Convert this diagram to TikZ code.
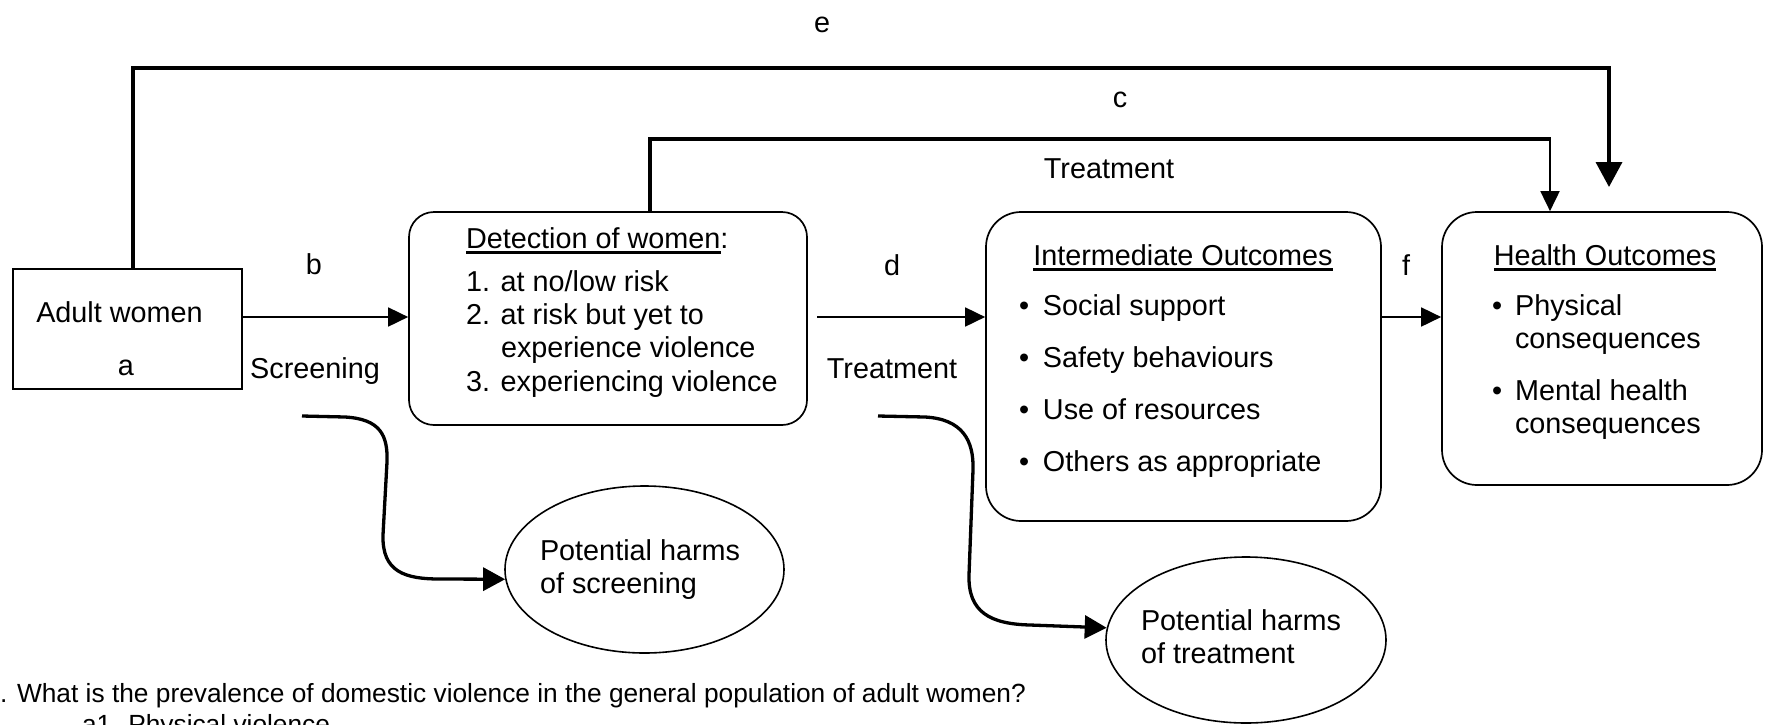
\documentclass[tikz,border=0pt]{standalone}
\usepackage{fontspec}
\setmainfont{Liberation Sans}
\usetikzlibrary{arrows.meta,shapes.geometric,calc}
\newcommand\fsz{\fontsize{28.8}{33.3}\selectfont}
\newcommand\fsq{\fontsize{26.3}{31}\selectfont}
\newcommand\ulx[1]{\setbox0\hbox{#1}\rlap{\rule[-5.5pt]{\wd0}{2.6pt}}\box0}
\begin{document}
\begin{tikzpicture}[x=1pt,y=-1pt,
  txt/.style={inner sep=0pt, outer sep=0pt, font=\fsz, anchor=base},
  txtl/.style={txt, anchor=base west},
  qtxt/.style={txtl, font=\fsq},
  sqbox/.style={draw, line width=1.7pt, inner sep=0pt},
  rbox/.style={draw, line width=1.7pt, inner sep=0pt, rounded corners=35pt},
  harm/.style={draw, ellipse, line width=1.6pt, inner sep=0pt},
  arr/.style={line width=1.8pt, -{Triangle[length=20pt,width=19pt]}},
  thickln/.style={line width=3.6pt},
  wavy/.style={line width=3.3pt, -{Triangle[length=22pt,width=23pt]}},
]
\useasboundingbox (0,0) rectangle (1765,724);

% boxes
\node[sqbox, minimum width=229pt, minimum height=120pt] (adult) at (127.5,329) {};
\node[rbox, rounded corners=25pt, minimum width=398pt, minimum height=213pt] (det) at (608,318.5) {};
\node[rbox, minimum width=395pt, minimum height=309pt] (inter) at (1183.5,366.5) {};
\node[rbox, minimum width=320pt, minimum height=273pt] (health) at (1602,348.5) {};
\node[harm, minimum width=279pt, minimum height=167pt] (harm1) at (644.5,569.5) {};
\node[harm, minimum width=280pt, minimum height=166pt] (harm2) at (1246,640) {};

% texts in boxes
\node[txt] (adultt) at (119.5,322) {Adult women};
\node[txt] (alab) at (126,375) {a};

\node[txtl] (dett) at (466,248) {\ulx{Detection of women}:};
\node[txtl] (det1) at (466,291) {1. at no/low risk};
\node[txtl] (det2) at (466,324) {2. at risk but yet to};
\node[txtl] (det2b) at (501,357) {experience violence};
\node[txtl] (det3) at (466,391) {3. experiencing violence};

\node[txt] (intt) at (1183,265) {\ulx{Intermediate Outcomes}};
\node[txtl] (int1) at (1019,315) {\textbullet\hspace{13.9pt}Social support};
\node[txtl] (int2) at (1019,367) {\textbullet\hspace{13.9pt}Safety behaviours};
\node[txtl] (int3) at (1019,419) {\textbullet\hspace{13.9pt}Use of resources};
\node[txtl] (int4) at (1019,471) {\textbullet\hspace{13.9pt}Others as appropriate};

\node[txt] (healtht) at (1605,265) {\ulx{Health Outcomes}};
\node[txtl] (h1) at (1492,315) {\textbullet\hspace{13pt}Physical};
\node[txtl] (h1b) at (1515,348) {consequences};
\node[txtl] (h2) at (1492,400) {\textbullet\hspace{13pt}Mental health};
\node[txtl] (h2b) at (1515,433) {consequences};

\node[txtl] (pht1) at (540,560) {Potential harms};
\node[txtl] (pht2) at (540,593) {of screening};
\node[txtl] (pht3) at (1141,630) {Potential harms};
\node[txtl] (pht4) at (1141,663) {of treatment};

% connector labels
\node[txt] (elab) at (822,32.5) {e};
\node[txt] (clab) at (1120,107.5) {c};
\node[txt] (treat1) at (1109,178) {Treatment};
\node[txt] (blab) at (314,274) {b};
\node[txt] (dlab) at (892,275) {d};
\node[txt] (flab) at (1406,275) {f};
\node[txt] (screen) at (315,378) {Screening};
\node[txt] (treat2) at (892,378) {Treatment};

% bottom question
\node[qtxt] (q) at (0,702) {. What is the prevalence of domestic violence in the general population of adult women?};
\node[qtxt] (q1) at (82,733) {a1. Physical violence};

% connectors
\coordinate (eL) at (133,68);
\coordinate (eR) at (1609,68);
\coordinate (eTip) at (1609,187);
\draw[line width=3.6pt, -{Triangle[length=25pt,width=26pt]}] (adult.north -| eL) -- (eL) -- (eR) -- (eTip);

\coordinate (cL) at (650,139);
\coordinate (cR) at (1550,139);
\draw[thickln] (det.north -| cL) -- (cL) -- (cR);
\draw[arr] ([yshift=1.8pt]cR) -- (health.north -| cR);

\draw[arr] (adult.east |- 0,317) -- (det.west |- 0,317);
\coordinate (dS) at (817,317);
\draw[arr] (dS) -- (dS -| inter.west);
\draw[arr] (inter.east |- dS) -- (health.west |- dS);

\coordinate (s1) at (302,416);
\draw[wavy] (s1) -- (345,417) .. controls (380,419) and (388,435) .. (387,462) -- (383,535) .. controls (382,572) and (405,579) .. (440,579) -- (harm1.184);
\coordinate (s2) at (878,416);
\draw[wavy] (s2) -- (925,417) .. controls (962,419) and (974,440) .. (973,470) -- (969,575) .. controls (968,612) and (990,624) .. (1030,625) -- (harm2.175);
\end{tikzpicture}
\end{document}
